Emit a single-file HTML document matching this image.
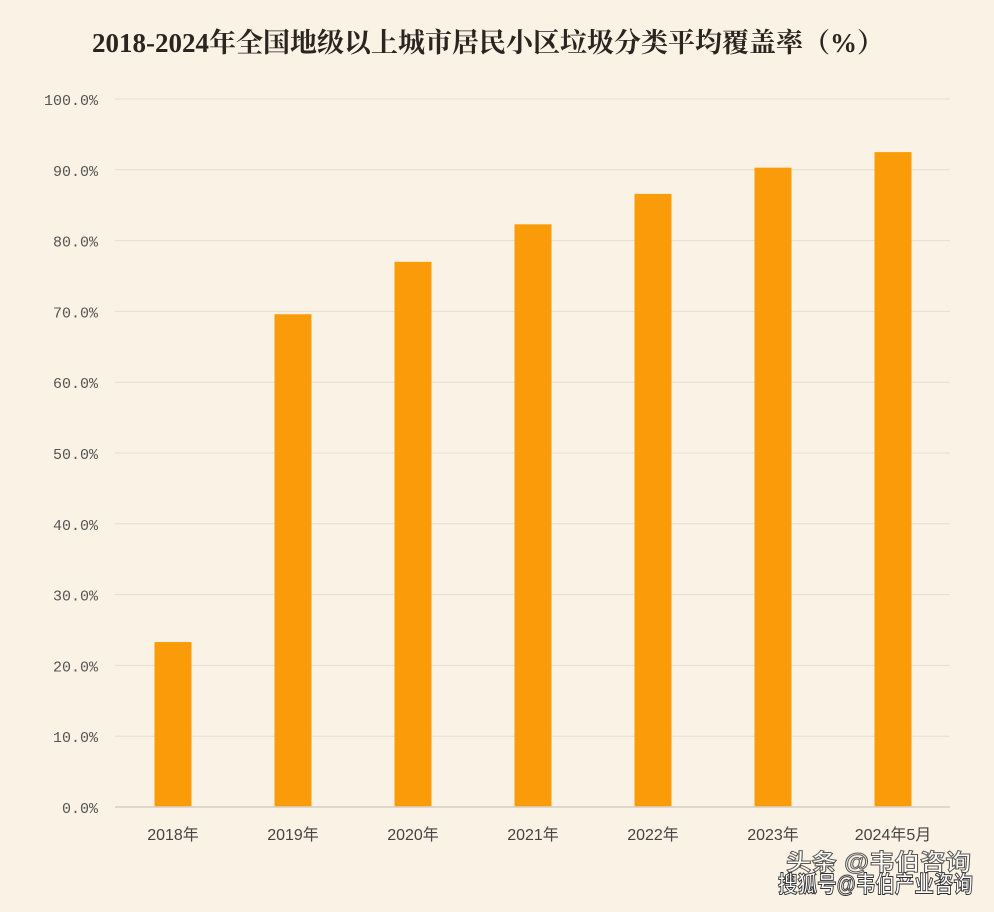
<!DOCTYPE html>
<html><head><meta charset="utf-8"><style>
body{margin:0;background:#faf2e4;}
svg{display:block;}
</style></head><body>
<svg width="994" height="912" viewBox="0 0 994 912" xmlns="http://www.w3.org/2000/svg">
<rect width="994" height="912" fill="#faf2e4"/>
<text x="488" y="52" text-anchor="middle" font-family="'Liberation Serif','Noto Serif CJK SC',serif" font-weight="bold" font-size="27" fill="#2a2520">2018-2024年全国地级以上城市居民小区垃圾分类平均覆盖率（%）</text>
<g id="grid"></g><g id="bars"></g><g id="xlabels"></g>
<line x1="115" y1="807" x2="950" y2="807" stroke="#d8d0c4" stroke-width="1.5"/>
<g font-family="'Liberation Sans','Noto Sans CJK SC',sans-serif" font-size="23" font-weight="bold">
<text x="786" y="870" fill="#fff" stroke="#333" stroke-width="1" opacity="0.8" textLength="185" lengthAdjust="spacingAndGlyphs">头条 @韦伯咨询</text>
<text x="778" y="892" fill="#fff" stroke="#333" stroke-width="1" textLength="195" lengthAdjust="spacingAndGlyphs">搜狐号@韦伯产业咨询</text>
</g>
</svg>
<script>
const categories=["2018年","2019年","2020年","2021年","2022年","2023年","2024年5月"];
const values=[23.3,69.6,77.0,82.3,86.6,90.3,92.5];
const yTicks=[0,10,20,30,40,50,60,70,80,90,100];
const yTickLabels=["0.0%","10.0%","20.0%","30.0%","40.0%","50.0%","60.0%","70.0%","80.0%","90.0%","100.0%"];
const NS="http://www.w3.org/2000/svg";
const y0=807,y100=99,x0=113,step=120,bw=37;
const yS=v=>y0-(y0-y100)*v/100;
const xC=i=>x0+step*(i+0.5);
function mk(t,a,p){const e=document.createElementNS(NS,t);for(const k in a)e.setAttribute(k,a[k]);p.appendChild(e);return e;}
const grid=document.getElementById('grid'),bars=document.getElementById('bars'),xl=document.getElementById('xlabels');
yTicks.forEach((v,i)=>{
 if(v>0){const l=mk('line',{x1:115,x2:950,y1:yS(v),y2:yS(v),stroke:'#e6ded2','stroke-width':1},grid);
 
 }
 const t=mk('text',{x:98,y:yS(v)+6,'text-anchor':'end','font-family':"'Liberation Mono',monospace",'font-size':15,fill:'#555'},grid);
 t.textContent=yTickLabels[i];
 
 
});
values.forEach((v,i)=>{
 const r=mk('rect',{x:xC(i)-bw/2,y:yS(v),width:bw,height:y0-yS(v),fill:'#fa9c0a'},bars);
 
 
 const t=mk('text',{x:xC(i),y:840,'text-anchor':'middle','font-family':"'Liberation Sans','Noto Sans CJK SC',sans-serif",'font-size':16,fill:'#444'},xl);
 t.textContent=categories[i];
 
 
});
</script>
</body></html>
